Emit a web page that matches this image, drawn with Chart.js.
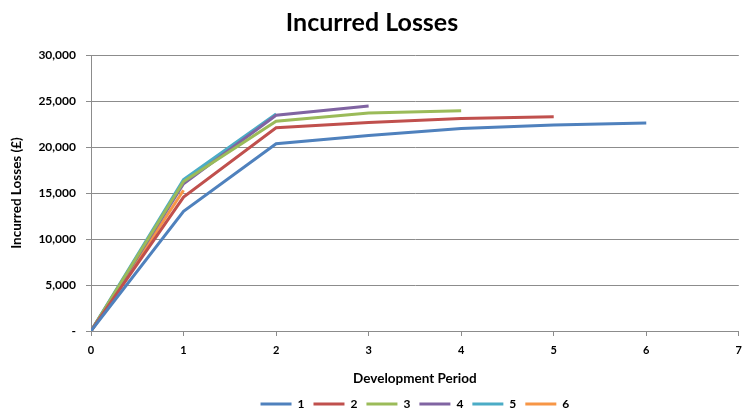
<!DOCTYPE html>
<html lang="en">
<head>
  <meta charset="UTF-8" />
  <title>Incurred Losses</title>
  <script src="https://cdn.jsdelivr.net/npm/chart.js"></script>
  <style>
    html, body {
      margin: 0;
      padding: 0;
      background: #ffffff;
    }
    .chart-container {
      width: 750px;
      height: 412px;
    }
  </style>
</head>
<body>
  <div class="chart-container">
    <canvas id="lossChart"></canvas>
  </div>

  <script>
    // development periods and cumulative incurred losses per origin year
    const periods = [0, 1, 2, 3, 4, 5, 6, 7];
    const year1 = [0, 13000, 20350, 21250, 22000, 22400, 22600];
    const year2 = [0, 14550, 22100, 22650, 23100, 23300];
    const year3 = [0, 16250, 22800, 23700, 23950];
    const year4 = [0, 16000, 23450, 24450];
    const year5 = [0, 16450, 23600];
    const year6 = [0, 15300];
    const seriesNames = ['1', '2', '3', '4', '5', '6'];
    const colors = ['#4F81BD', '#C0504D', '#9BBB59', '#8064A2', '#4BACC6', '#F79646'];

    const FONT = 'Lato, "Open Sans", Arial, sans-serif';
    const GRID = '#8c8c8c';

    const allSeries = [year1, year2, year3, year4, year5, year6];
    const datasets = allSeries.map((vals, i) => ({
      label: seriesNames[i],
      data: vals.map((v, j) => ({ x: periods[j], y: v })),
      borderColor: colors[i],
      backgroundColor: colors[i],
      borderWidth: 3,
      pointRadius: 0,
      pointStyle: 'line',
      tension: 0
    }));

    // short legend strip, centred under the plot area rather than the canvas
    const legendPlacement = {
      id: 'legendPlacement',
      afterInit(chart) {
        const legend = chart.legend;
        if (!legend) return;
        const fit = legend.fit;
        legend.fit = function () {
          fit.call(this);
          this.height = 23;
        };
      },
      afterLayout(chart) {
        const legend = chart.legend;
        if (!legend) return;
        const area = chart.chartArea;
        const shift = (area.left + area.right) - (legend.left + legend.right);
        if (shift > 0) legend.left += shift;
      }
    };

    const ctx = document.getElementById('lossChart').getContext('2d');

    new Chart(ctx, {
      type: 'line',
      data: { datasets: datasets },
      plugins: [legendPlacement],
      options: {
        responsive: true,
        maintainAspectRatio: false,
        animation: false,
        layout: { padding: { left: 0, right: 6, top: 0, bottom: 0 } },
        plugins: {
          title: {
            display: true,
            text: 'Incurred Losses',
            color: '#000',
            font: { family: FONT, size: 25, weight: 'bold' },
            padding: { top: 8, bottom: 17 }
          },
          legend: {
            position: 'bottom',
            labels: {
              usePointStyle: true,
              pointStyleWidth: 31,
              boxHeight: 11,
              padding: 9,
              color: '#000',
              font: { family: FONT, size: 12, weight: 'bold' }
            }
          },
          tooltip: { enabled: false }
        },
        scales: {
          x: {
            type: 'linear',
            min: 0,
            max: 7,
            ticks: {
              stepSize: 1,
              padding: 8,
              color: '#000',
              font: { family: FONT, size: 11, weight: 'bold' }
            },
            grid: {
              drawOnChartArea: false,
              drawTicks: true,
              tickLength: 5,
              color: GRID
            },
            border: { color: GRID },
            title: {
              display: true,
              text: 'Development Period',
              color: '#000',
              font: { family: FONT, size: 13.5, weight: 'bold' },
              padding: { top: 4, bottom: 2 }
            },
            afterFit: (scale) => { scale.height = 58; }
          },
          y: {
            min: 0,
            max: 30000,
            ticks: {
              stepSize: 5000,
              padding: 10,
              color: '#000',
              font: { family: FONT, size: 12, weight: 'bold' },
              callback: (v) => v === 0 ? '-' : v.toLocaleString('en-GB')
            },
            grid: {
              color: GRID,
              tickLength: 5
            },
            border: { color: GRID },
            title: {
              display: true,
              text: 'Incurred Losses (£)',
              color: '#000',
              font: { family: FONT, size: 13.5, weight: 'bold' },
              padding: { top: 9, bottom: 4 }
            },
            afterFit: (scale) => { scale.width = 91; }
          }
        }
      }
    });
  </script>
</body>
</html>
